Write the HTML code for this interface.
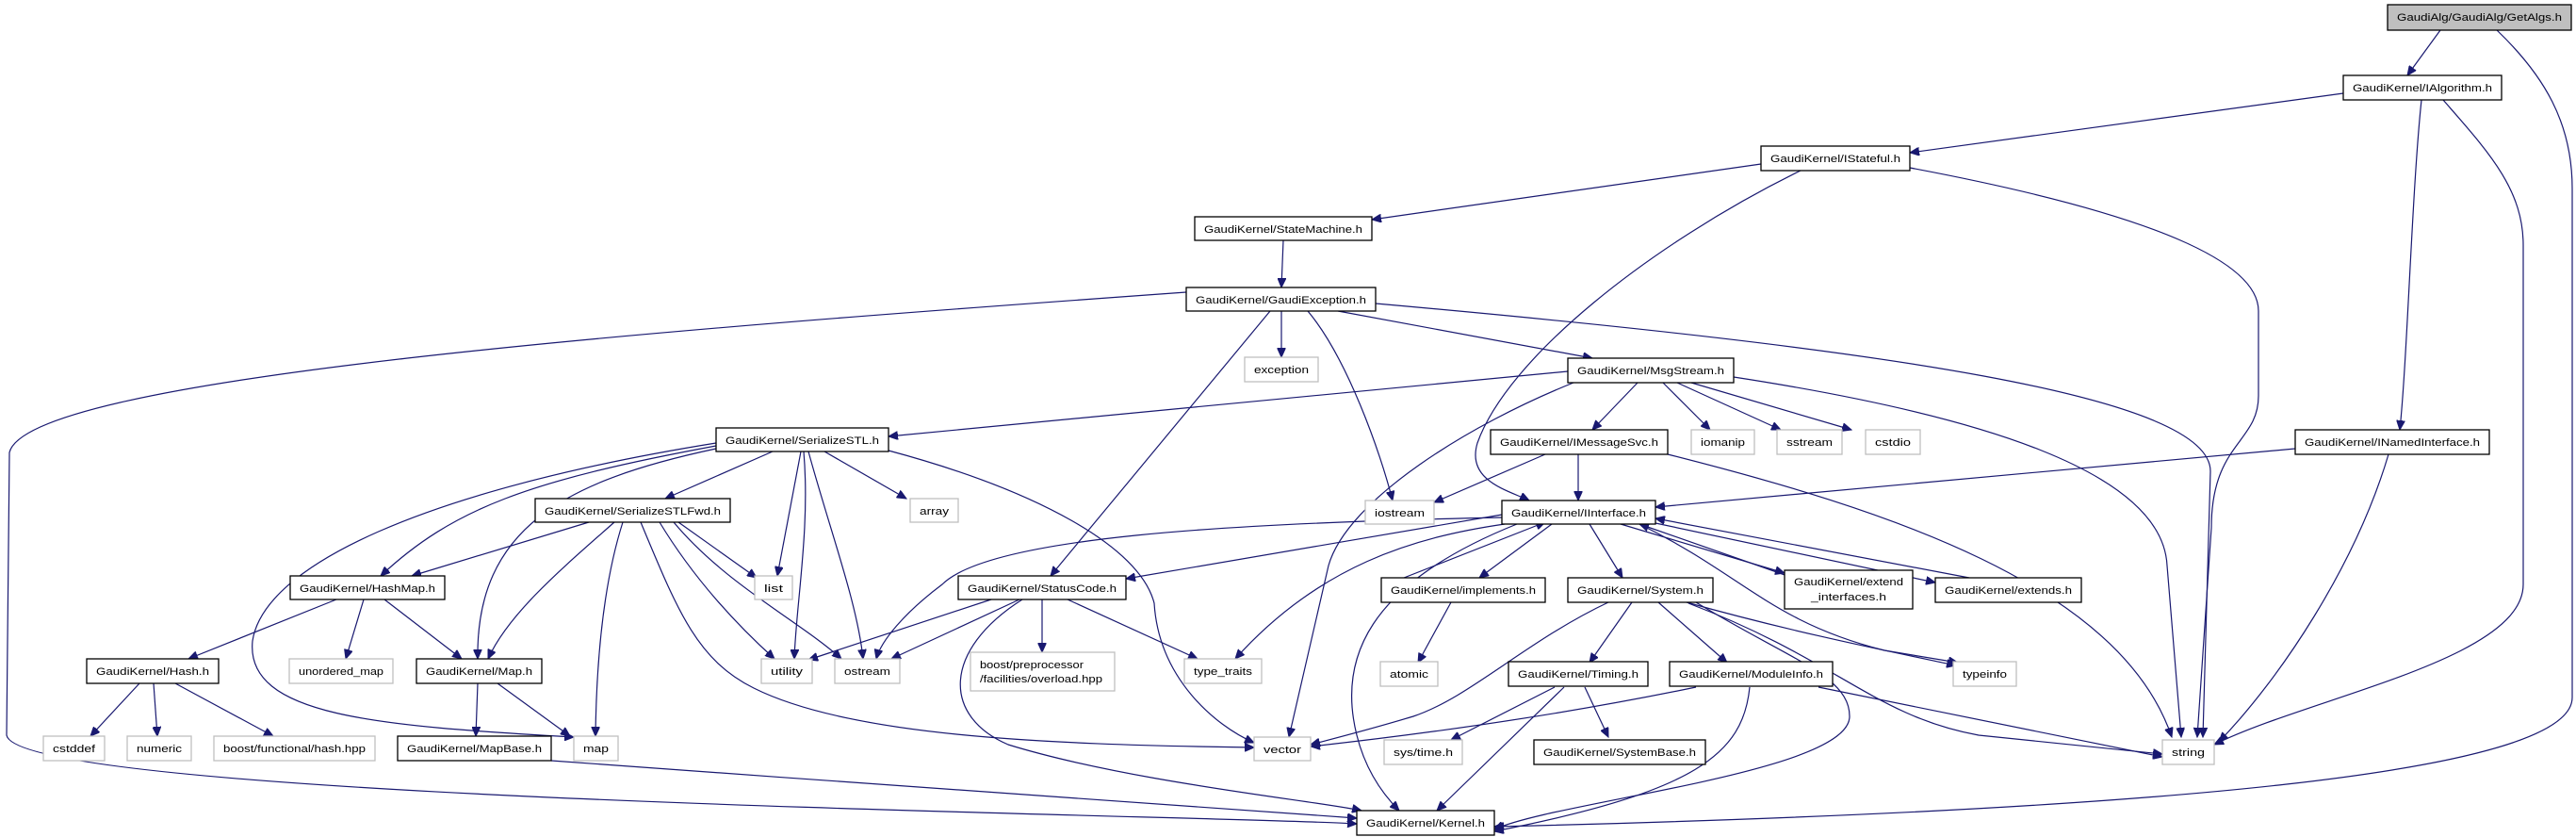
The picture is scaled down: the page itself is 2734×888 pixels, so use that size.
<!DOCTYPE html>
<html><head><meta charset="utf-8"><style>
html,body{margin:0;padding:0;background:#fff;width:2734px;height:888px;overflow:hidden}
svg text{font-family:"Liberation Sans",Arial,sans-serif;font-size:11px;fill:#000}
.e{fill:none;stroke:#191970;stroke-width:1.2;marker-end:url(#a)}
.n{fill:#fff;stroke:#000;stroke-width:1.3}
.s{fill:#fff;stroke:#bfbfbf;stroke-width:1.3}
</style></head><body>
<svg width="2734" height="888" viewBox="0 0 2734 888" xmlns="http://www.w3.org/2000/svg">
<defs><marker id="a" markerWidth="11" markerHeight="9" refX="10" refY="4.5" orient="auto" markerUnits="userSpaceOnUse"><path d="M0,0 L10,4.5 L0,9z" fill="#191970" stroke="#191970"/></marker></defs>
<g>
<path class="e" d="M2590,32 L2555,80"/>
<path class="e" d="M2650,32 C2700,80 2730,130 2730,200 L2730,740 C2730,820 2300,860 1586,877"/>
<path class="e" d="M2487,99 L2027,162"/>
<path class="e" d="M2570,106 C2560,200 2555,380 2547,456"/>
<path class="e" d="M2593,106 C2640,160 2678,200 2678,260 L2678,620 C2678,700 2450,740 2350,790"/>
<path class="e" d="M1869,174 L1456,233"/>
<path class="e" d="M1911,181 C1750,260 1600,380 1568,470 C1556,510 1600,520 1623,531"/>
<path class="e" d="M2027,178 C2250,220 2397,270 2397,330 L2397,420 C2397,470 2347,470 2347,560 L2332,782"/>
<path class="e" d="M1362,255 L1360,305"/>
<path class="e" d="M1360,330 L1360,379"/>
<path class="e" d="M1420,330 L1690,380"/>
<path class="e" d="M1348,330 L1115,611"/>
<path class="e" d="M1388,330 C1430,380 1465,480 1478,531"/>
<path class="e" d="M1460,322 C2000,370 2346,420 2346,500 L2338,782"/>
<path class="e" d="M1259,310 C700,350 30,400 10,480 L7,780 C20,850 1300,865 1440,874"/>
<path class="e" d="M1664,394 L943,463"/>
<path class="e" d="M1738,406 L1690,456"/>
<path class="e" d="M1765,406 L1815,456"/>
<path class="e" d="M1780,406 L1890,456"/>
<path class="e" d="M1795,406 L1965,456"/>
<path class="e" d="M1840,400 C2100,440 2295,500 2300,600 L2315,782"/>
<path class="e" d="M1670,406 C1560,450 1430,530 1410,600 L1368,782"/>
<path class="e" d="M1640,482 L1522,533"/>
<path class="e" d="M1675,482 L1675,531"/>
<path class="e" d="M1770,482 C2000,540 2250,620 2305,782"/>
<path class="e" d="M2436,476 L1757,538"/>
<path class="e" d="M2535,482 C2500,600 2420,720 2355,787"/>
<path class="e" d="M820,479 L706,529"/>
<path class="e" d="M760,473 C560,510 480,540 404,611"/>
<path class="e" d="M760,476 C600,510 505,560 507,699"/>
<path class="e" d="M760,470 C450,520 280,600 268,680 C260,760 400,770 609,782"/>
<path class="e" d="M850,479 L825,611"/>
<path class="e" d="M853,479 C860,560 845,640 843,699"/>
<path class="e" d="M858,479 C880,560 910,640 916,699"/>
<path class="e" d="M875,479 L962,529"/>
<path class="e" d="M943,478 C1100,520 1210,580 1225,640 C1230,720 1290,770 1331,788"/>
<path class="e" d="M625,554 L437,611"/>
<path class="e" d="M652,554 C600,600 540,650 518,699"/>
<path class="e" d="M661,554 C640,620 633,700 632,781"/>
<path class="e" d="M720,554 L803,613"/>
<path class="e" d="M700,554 C740,620 790,670 822,699"/>
<path class="e" d="M715,554 C770,620 850,660 893,699"/>
<path class="e" d="M680,554 C720,650 740,700 800,730 C900,780 1100,790 1331,793"/>
<path class="e" d="M357,636 L200,699"/>
<path class="e" d="M386,636 L367,699"/>
<path class="e" d="M408,636 L490,699"/>
<path class="e" d="M148,725 L96,781"/>
<path class="e" d="M163,725 L167,781"/>
<path class="e" d="M186,725 L290,781"/>
<path class="e" d="M507,725 L505,781"/>
<path class="e" d="M528,725 L605,781"/>
<path class="e" d="M585,807 C900,830 1300,858 1440,868"/>
<path class="e" d="M1594,546 L1195,614"/>
<path class="e" d="M1594,549 C1300,555 1050,570 1000,620 C960,650 935,680 930,699"/>
<path class="e" d="M1597,556 C1500,570 1400,600 1311,699"/>
<path class="e" d="M1610,556 C1450,620 1420,700 1440,780 C1450,820 1470,845 1485,860"/>
<path class="e" d="M1647,556 L1570,613"/>
<path class="e" d="M1687,556 L1722,613"/>
<path class="e" d="M1720,556 L1894,608"/>
<path class="e" d="M1757,555 L2054,618"/>
<path class="e" d="M1740,556 C1850,610 1880,660 2000,690 L2078,703"/>
<path class="e" d="M1490,613 L1640,554"/>
<path class="e" d="M1540,639 L1505,703"/>
<path class="e" d="M1900,612 L1740,556"/>
<path class="e" d="M2090,613 L1757,550"/>
<path class="e" d="M1052,636 L858,700"/>
<path class="e" d="M1082,636 L946,699"/>
<path class="e" d="M1106,636 L1106,692"/>
<path class="e" d="M1133,636 L1271,699"/>
<path class="e" d="M1085,636 C1000,690 1000,760 1070,790 C1200,830 1400,850 1445,860"/>
<path class="e" d="M1707,639 C1620,680 1560,740 1500,760 C1450,775 1410,785 1391,790"/>
<path class="e" d="M1732,639 L1687,703"/>
<path class="e" d="M1760,639 L1833,703"/>
<path class="e" d="M1790,639 C1900,670 2000,690 2076,706"/>
<path class="e" d="M1792,640 C1950,700 1990,760 2100,780 L2295,800"/>
<path class="e" d="M1800,639 C1900,700 1963,717 1963,760 C1963,820 1650,850 1586,880"/>
<path class="e" d="M1650,729 L1540,785"/>
<path class="e" d="M1682,729 L1707,782"/>
<path class="e" d="M1660,729 L1525,860"/>
<path class="e" d="M1800,729 C1650,760 1500,780 1391,792"/>
<path class="e" d="M1930,729 L2295,803"/>
<path class="e" d="M1857,729 C1850,800 1800,840 1586,882"/>
</g>
<g>
<rect x="2534" y="5" width="195" height="27" fill="#bfbfbf" stroke="#000" stroke-width="1.3"/><text x="2544" y="22" textLength="175" lengthAdjust="spacingAndGlyphs">GaudiAlg/GaudiAlg/GetAlgs.h</text>
<rect class="n" x="2487" y="80" width="168" height="26"/><text x="2497" y="97" textLength="148" lengthAdjust="spacingAndGlyphs">GaudiKernel/IAlgorithm.h</text>
<rect class="n" x="1869" y="155" width="158" height="26"/><text x="1879" y="172" textLength="138" lengthAdjust="spacingAndGlyphs">GaudiKernel/IStateful.h</text>
<rect class="n" x="1268" y="230" width="188" height="25"/><text x="1278" y="247" textLength="168" lengthAdjust="spacingAndGlyphs">GaudiKernel/StateMachine.h</text>
<rect class="n" x="1259" y="305" width="201" height="25"/><text x="1269" y="322" textLength="181" lengthAdjust="spacingAndGlyphs">GaudiKernel/GaudiException.h</text>
<rect class="s" x="1321" y="379" width="78" height="26"/><text x="1331" y="396" textLength="58" lengthAdjust="spacingAndGlyphs">exception</text>
<rect class="n" x="1664" y="380" width="176" height="26"/><text x="1674" y="397" textLength="156" lengthAdjust="spacingAndGlyphs">GaudiKernel/MsgStream.h</text>
<rect class="n" x="760" y="454" width="183" height="25"/><text x="770" y="471" textLength="163" lengthAdjust="spacingAndGlyphs">GaudiKernel/SerializeSTL.h</text>
<rect class="n" x="1582" y="456" width="188" height="26"/><text x="1592" y="473" textLength="168" lengthAdjust="spacingAndGlyphs">GaudiKernel/IMessageSvc.h</text>
<rect class="s" x="1795" y="456" width="67" height="26"/><text x="1805" y="473" textLength="47" lengthAdjust="spacingAndGlyphs">iomanip</text>
<rect class="s" x="1886" y="456" width="69" height="26"/><text x="1896" y="473" textLength="49" lengthAdjust="spacingAndGlyphs">sstream</text>
<rect class="s" x="1980" y="456" width="58" height="26"/><text x="1990" y="473" textLength="38" lengthAdjust="spacingAndGlyphs">cstdio</text>
<rect class="n" x="2436" y="456" width="206" height="26"/><text x="2446" y="473" textLength="186" lengthAdjust="spacingAndGlyphs">GaudiKernel/INamedInterface.h</text>
<rect class="n" x="568" y="529" width="207" height="25"/><text x="578" y="546" textLength="187" lengthAdjust="spacingAndGlyphs">GaudiKernel/SerializeSTLFwd.h</text>
<rect class="s" x="966" y="529" width="51" height="25"/><text x="976" y="546" textLength="31" lengthAdjust="spacingAndGlyphs">array</text>
<rect class="s" x="1449" y="531" width="73" height="25"/><text x="1459" y="548" textLength="53" lengthAdjust="spacingAndGlyphs">iostream</text>
<rect class="n" x="1594" y="531" width="163" height="25"/><text x="1604" y="548" textLength="143" lengthAdjust="spacingAndGlyphs">GaudiKernel/IInterface.h</text>
<rect class="n" x="308" y="611" width="164" height="25"/><text x="318" y="628" textLength="144" lengthAdjust="spacingAndGlyphs">GaudiKernel/HashMap.h</text>
<rect class="s" x="801" y="611" width="40" height="25"/><text x="811" y="628" textLength="20" lengthAdjust="spacingAndGlyphs">list</text>
<rect class="n" x="1017" y="611" width="178" height="25"/><text x="1027" y="628" textLength="158" lengthAdjust="spacingAndGlyphs">GaudiKernel/StatusCode.h</text>
<rect class="n" x="1466" y="613" width="174" height="26"/><text x="1476" y="630" textLength="154" lengthAdjust="spacingAndGlyphs">GaudiKernel/implements.h</text>
<rect class="n" x="1664" y="613" width="154" height="26"/><text x="1674" y="630" textLength="134" lengthAdjust="spacingAndGlyphs">GaudiKernel/System.h</text>
<rect class="n" x="1894" y="605" width="136" height="41"/><text x="1904" y="621" textLength="116" lengthAdjust="spacingAndGlyphs">GaudiKernel/extend</text><text x="1922" y="637" textLength="80" lengthAdjust="spacingAndGlyphs">_interfaces.h</text>
<rect class="n" x="2054" y="613" width="155" height="26"/><text x="2064" y="630" textLength="135" lengthAdjust="spacingAndGlyphs">GaudiKernel/extends.h</text>
<rect class="n" x="92" y="699" width="140" height="26"/><text x="102" y="716" textLength="120" lengthAdjust="spacingAndGlyphs">GaudiKernel/Hash.h</text>
<rect class="s" x="307" y="699" width="110" height="26"/><text x="317" y="716" textLength="90" lengthAdjust="spacingAndGlyphs">unordered_map</text>
<rect class="n" x="442" y="699" width="133" height="26"/><text x="452" y="716" textLength="113" lengthAdjust="spacingAndGlyphs">GaudiKernel/Map.h</text>
<rect class="s" x="808" y="699" width="54" height="26"/><text x="818" y="716" textLength="34" lengthAdjust="spacingAndGlyphs">utility</text>
<rect class="s" x="886" y="699" width="69" height="26"/><text x="896" y="716" textLength="49" lengthAdjust="spacingAndGlyphs">ostream</text>
<rect class="s" x="1030" y="692" width="153" height="41"/><text x="1040" y="709" textLength="110" lengthAdjust="spacingAndGlyphs">boost/preprocessor</text><text x="1040" y="724" textLength="130" lengthAdjust="spacingAndGlyphs">/facilities/overload.hpp</text>
<rect class="s" x="1257" y="699" width="82" height="26"/><text x="1267" y="716" textLength="62" lengthAdjust="spacingAndGlyphs">type_traits</text>
<rect class="s" x="1465" y="702" width="61" height="26"/><text x="1475" y="719" textLength="41" lengthAdjust="spacingAndGlyphs">atomic</text>
<rect class="n" x="1601" y="702" width="148" height="26"/><text x="1611" y="719" textLength="128" lengthAdjust="spacingAndGlyphs">GaudiKernel/Timing.h</text>
<rect class="n" x="1772" y="702" width="173" height="26"/><text x="1782" y="719" textLength="153" lengthAdjust="spacingAndGlyphs">GaudiKernel/ModuleInfo.h</text>
<rect class="s" x="2073" y="702" width="67" height="26"/><text x="2083" y="719" textLength="47" lengthAdjust="spacingAndGlyphs">typeinfo</text>
<rect class="s" x="46" y="781" width="65" height="26"/><text x="56" y="798" textLength="45" lengthAdjust="spacingAndGlyphs">cstddef</text>
<rect class="s" x="135" y="781" width="68" height="26"/><text x="145" y="798" textLength="48" lengthAdjust="spacingAndGlyphs">numeric</text>
<rect class="s" x="227" y="781" width="171" height="26"/><text x="237" y="798" textLength="151" lengthAdjust="spacingAndGlyphs">boost/functional/hash.hpp</text>
<rect class="n" x="422" y="781" width="163" height="26"/><text x="432" y="798" textLength="143" lengthAdjust="spacingAndGlyphs">GaudiKernel/MapBase.h</text>
<rect class="s" x="609" y="781" width="47" height="26"/><text x="619" y="798" textLength="27" lengthAdjust="spacingAndGlyphs">map</text>
<rect class="s" x="1331" y="782" width="60" height="25"/><text x="1341" y="799" textLength="40" lengthAdjust="spacingAndGlyphs">vector</text>
<rect class="s" x="1469" y="785" width="83" height="26"/><text x="1479" y="802" textLength="63" lengthAdjust="spacingAndGlyphs">sys/time.h</text>
<rect class="n" x="1628" y="785" width="182" height="26"/><text x="1638" y="802" textLength="162" lengthAdjust="spacingAndGlyphs">GaudiKernel/SystemBase.h</text>
<rect class="s" x="2295" y="785" width="55" height="26"/><text x="2305" y="802" textLength="35" lengthAdjust="spacingAndGlyphs">string</text>
<rect class="n" x="1440" y="860" width="146" height="26"/><text x="1450" y="877" textLength="126" lengthAdjust="spacingAndGlyphs">GaudiKernel/Kernel.h</text>
</g>
</svg>
</body></html>
